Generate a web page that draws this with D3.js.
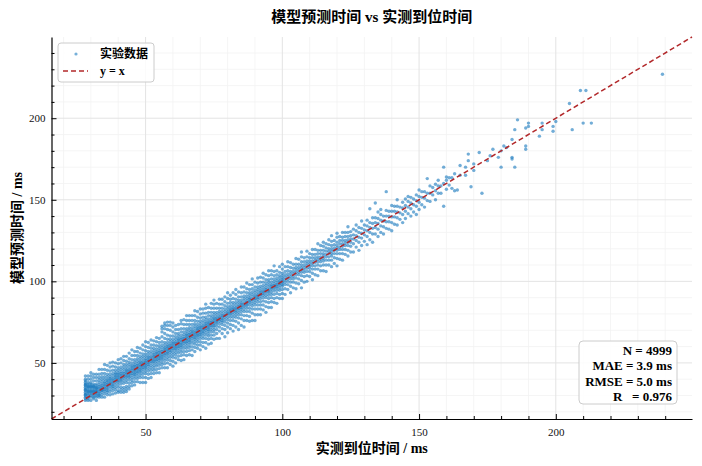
<!DOCTYPE html>
<html>
<head>
<meta charset="utf-8">
<script src="https://cdn.jsdelivr.net/npm/d3@7"></script>
<style>
  body { margin: 0; background: #fff; }
  text { font-family: "Liberation Serif", "Noto Sans CJK SC", serif; }
</style>
</head>
<body>
<script>
// each row: measured time (ms), then the prediction errors (predicted - measured, ms)
// read off that column of the scatter
const errorColumns = [
  [28, 0, 1, 2, 3, 4, 5, 6, 7, 8, 9, 10, 11, 12, -1, 2.5, 5.5, 8.5, 14],
  [29, -2, 0, 1, 2, 3, 4, 5, 6, 7, 8, 9, 11, 13, -1, 3.5, 6.5],
  [30, -3, -1, 0, 1, 2, 3, 4, 5, 6, 7, 8, 10, 12, 14, 2.5, 5.5],
  [31, -3, -2, -1, 0, 1, 2, 3, 4, 5, 6, 8, 10, 12, 1.5, 4.5],
  [32, -5, -3, -2, -1, 0, 1, 2, 3, 4, 5, 7, 9, 11, 0.5, 2.5],
  [33, -4, -3, -1.5, -0.5, 0.5, 1.5, 2.5, 3.5, 5, 6.5, 8, 10, 13, -2.5],
  [34, -5, -3.5, -2, -1, 0, 1, 2, 3, 4.5, 6, 7.5, 9.5, 12, -0.5],
  [35, -6, -4, -2.5, -1.5, -0.5, 0.5, 1.5, 2.5, 3.5, 5, 6.5, 8.5, 11, 14],
  [36, -5.5, -4, -3, -2, -1, 0, 1, 2, 3, 4, 5.5, 7, 9.5, 12.5],
  [37, -6.5, -4.5, -3, -1.5, -0.5, 0.5, 1.5, 2.5, 3.5, 4.5, 6, 8, 10.5, 13],
  [38, -7, -5, -3.5, -2.5, -1.5, -0.5, 0.5, 1.5, 2.5, 4, 5.5, 7.5, 10, 12.5],
  [39, -7.5, -5.5, -4, -2.5, -1, 0, 1, 2, 3, 4, 5, 6.5, 8.5, 11],
  [40, -8, -7, -5, -3.5, -2, -1, 0, 1, 2, 3, 4, 5.5, 7, 9.5, 12],
  [41, -9, -7.5, -6, -4, -2.5, -1.5, -0.5, 0.5, 1.5, 2.5, 3.5, 5, 6.5, 9, 11.5],
  [42, -10, -8.5, -7, -4.5, -3, -1.5, -0.5, 0.5, 1.5, 2.5, 4, 5.5, 7, 9.5, 12],
  [43, -10.5, -9, -7.5, -5, -3.5, -2, -1, 0, 1, 2, 3, 4.5, 6, 8, 11],
  [44, -10, -8.5, -6.5, -4.5, -3, -2, -1, 0, 1, 2, 3.5, 5, 6.5, 8.5, 12],
  [45, -9, -7, -5.5, -4, -2.5, -1.5, -0.5, 0.5, 1.5, 2.5, 3.5, 5, 7, 9.5, 13],
  [46, -9.5, -7.5, -5.5, -4, -3, -2, -1, 0, 1, 2, 3, 4.5, 6, 8.5, 11],
  [47, -8.5, -6.5, -5, -3.5, -2.5, -1.5, -0.5, 0.5, 1.5, 2.5, 4, 5.5, 7.5, 10, 12.5],
  [48, -10, -7, -5.5, -4, -3, -2, -1, 0, 1, 2, 3, 4.5, 6, 8, 11],
  [49, -11, -8, -6, -4.5, -3, -2, -1, 0, 1, 2, 3.5, 5, 6.5, 9, 12],
  [50, -12, -9, -6.5, -5, -3.5, -2.5, -1.5, -0.5, 0.5, 1.5, 2.5, 4, 5.5, 7.5, 10, 13],
  [51, -10.5, -8, -6, -4.5, -3, -2, -1, 0, 1, 2, 3, 4.5, 6, 8.5, 11.5],
  [52, -11, -8.5, -6.5, -5, -3.5, -2, -1, 0, 1, 2, 3.5, 5, 7, 9, 12],
  [53, -9.5, -7.5, -6, -4.5, -3, -2, -1, 0, 1, 2, 3, 4.5, 6, 8, 10.5],
  [54, -10, -8, -6, -4.5, -3, -2, -1, 0, 1, 2, 3, 4.5, 6.5, 9, 11.5],
  [55, -11, -8.5, -6.5, -5, -3.5, -2.5, -1.5, -0.5, 0.5, 1.5, 2.5, 4, 5.5, 7.5, 10],
  [56, -9, -7, -5.5, -4, -3, -2, -1, 0, 1, 2, 3.5, 5, 7, 10, 13, 15, 16.5],
  [57, -10, -7.5, -5.5, -4, -2.5, -1.5, -0.5, 0.5, 1.5, 2.5, 4, 5.5, 8, 11, 14, 16, 17.5],
  [58, -11, -8, -6, -4.5, -3, -2, -1, 0, 1, 2, 3, 4.5, 6.5, 9, 12.5, 15, 17],
  [59, -10, -7.5, -5.5, -4, -2.5, -1.5, -0.5, 0.5, 1.5, 2.5, 4, 5.5, 7.5, 11, 14, 16],
  [60, -12, -9, -6.5, -5, -3.5, -2, -1, 0, 1, 2, 3, 4.5, 6.5, 9, 12, 14.5],
  [61, -11, -8, -6, -4.5, -3, -2, -1, 0, 1, 2, 3.5, 5, 7, 9.5, 12],
  [62, -10, -8, -6, -4.5, -3, -2, -1, 0, 1, 2, 3, 4.5, 6, 8.5, 11.5],
  [63, -11.5, -8.5, -6.5, -5, -3.5, -2.5, -1.5, -0.5, 0.5, 1.5, 2.5, 4, 6, 8, 11, 13],
  [64, -12, -9, -7, -5, -3.5, -2, -1, 0, 1, 2, 3.5, 5, 7, 9.5, 12.5],
  [65, -10.5, -8, -6, -4.5, -3, -2, -1, 0, 1, 2, 3, 4.5, 6, 8.5, 11, 14],
  [66, -11, -8.5, -6.5, -5, -3.5, -2.5, -1.5, -0.5, 0.5, 1.5, 2.5, 4, 5.5, 7.5, 10, 13],
  [67, -12.5, -9, -7, -5, -3.5, -2, -1, 0, 1, 2, 3, 4.5, 6.5, 9, 12],
  [68, -11, -8.5, -6.5, -5, -3.5, -2.5, -1.5, -0.5, 0.5, 1.5, 3, 4.5, 6, 8, 11, 14],
  [69, -10, -8, -6, -4.5, -3, -2, -1, 0, 1, 2, 3, 4.5, 6.5, 9, 12.5],
  [70, -12, -9, -7, -5, -3.5, -2.5, -1.5, -0.5, 0.5, 1.5, 2.5, 4, 5.5, 7.5, 10, 13],
  [71, -11, -8.5, -6, -4.5, -3, -2, -1, 0, 1, 2, 3.5, 5, 7, 9.5, 12],
  [72, -13, -9.5, -7, -5, -3.5, -2, -1, 0, 1, 2, 3, 4.5, 6, 8.5, 11.5, 14],
  [73, -11.5, -8.5, -6.5, -5, -3.5, -2.5, -1.5, -0.5, 0.5, 1.5, 2.5, 4, 6, 8, 11],
  [74, -12, -9, -7, -5, -3.5, -2, -1, 0, 1, 2, 3.5, 5, 7, 9.5, 12.5],
  [75, -10.5, -8, -6, -4.5, -3, -2, -1, 0, 1, 2, 3, 4.5, 6, 8.5, 11, 13.5],
  [76, -11, -8, -5.5, -3.5, -2, -1, 0, 1, 2, 3.5, 5, 7.5, 10.5],
  [77, -12, -7.5, -5, -3, -1.5, -0.5, 0.5, 1.5, 3, 4.5, 6.5, 9, 12],
  [78, -10, -7, -4.5, -3, -2, -1, 0, 1, 2, 3.5, 5.5, 8, 11],
  [79, -13, -8.5, -6, -4, -2.5, -1, 0, 1, 2.5, 4, 6, 8.5, 11.5],
  [80, -11.5, -8, -5.5, -3.5, -2, -0.5, 0.5, 1.5, 3, 4.5, 6.5, 9.5, 13],
  [81, -10, -7.5, -5, -3, -1.5, -0.5, 0.5, 1.5, 2.5, 4, 6, 8, 10.5],
  [82, -12.5, -9, -6, -4, -2.5, -1, 0, 1, 2, 3.5, 5, 7.5, 11],
  [83, -11, -7.5, -5, -3.5, -2, -1, 0, 1, 2.5, 4, 6, 9, 12],
  [84, -13.5, -9.5, -6.5, -4.5, -3, -1.5, -0.5, 0.5, 1.5, 3, 4.5, 6.5, 9.5],
  [85, -12, -8, -5.5, -3.5, -2, -1, 0, 1, 2, 3.5, 5.5, 8, 11.5],
  [86, -14, -10, -7, -4.5, -3, -1.5, -0.5, 0.5, 2, 3.5, 5, 7.5, 10.5],
  [87, -11, -8, -5.5, -3.5, -2, -1, 0, 1, 2.5, 4, 6, 8.5, 12],
  [88, -12.5, -9.5, -6.5, -4.5, -2.5, -1, 0, 1, 2, 3.5, 5, 7, 10],
  [89, -13, -8.5, -6, -4, -2.5, -1, 0, 1.5, 3, 4.5, 6.5, 9, 12.5],
  [90, -14, -10.5, -7, -4.5, -3, -1.5, -0.5, 0.5, 1.5, 3, 4.5, 6.5, 9.5],
  [91, -11.5, -8, -5.5, -3.5, -2, -1, 0, 1, 2.5, 4, 5.5, 8, 11],
  [92, -12.5, -9, -6.5, -4.5, -2.5, -1, 0, 1, 2, 3.5, 5, 7.5, 10.5],
  [93, -10.5, -7.5, -5, -3, -1.5, -0.5, 0.5, 1.5, 3, 4.5, 6.5, 9, 12],
  [94, -13, -9.5, -6.5, -4, -2.5, -1, 0, 1, 2, 3.5, 5, 7, 10],
  [95, -11, -8, -5.5, -3.5, -2, -1, 0, 1.5, 3, 4.5, 6, 8.5, 11.5],
  [96, -12, -8.5, -6, -4, -2.5, -1, 0, 1, 2, 3.5, 5.5, 8, 10.5],
  [97, -10, -7.5, -5, -3, -1.5, -0.5, 0.5, 1.5, 3, 4.5, 6.5, 9, 12.5],
  [98, -11.5, -8, -5.5, -3.5, -2, -1, 0, 1, 2.5, 4, 6, 8.5],
  [99, -9.5, -7, -4.5, -3, -1.5, -0.5, 0.5, 1.5, 3, 4.5, 6.5, 10],
  [100, -10.5, -7.5, -5, -3, -2, -1, 0, 1, 2, 3.5, 5, 7.5, 10.5],
  [101, -9, -5.5, -3, -1.5, 0, 1.5, 3, 5, 8],
  [102, -7, -4, -2, -0.5, 1, 2.5, 4.5, 7, 10],
  [103, -10, -6, -3.5, -1.5, 0, 1.5, 3, 5.5, 8.5],
  [104, -8, -4.5, -2.5, -1, 0.5, 2, 4, 6.5],
  [105, -9.5, -6, -3, -1, 0.5, 2, 3.5, 5.5, 9],
  [106, -7.5, -4.5, -2, -0.5, 1, 2.5, 4.5, 7.5],
  [107, -11, -6.5, -3.5, -1.5, 0, 1.5, 3, 5, 8, 11],
  [108, -8.5, -5, -2.5, -1, 0.5, 2, 4, 6.5],
  [109, -9, -5.5, -3, -1, 0.5, 2, 3.5, 6, 9.5],
  [110, -7, -4, -2, -0.5, 1, 2.5, 4.5, 7],
  [111, -10, -6, -3.5, -1.5, 0, 1.5, 3.5, 5.5, 8.5],
  [112, -8, -4.5, -2.5, -0.5, 1, 2.5, 4.5, 7.5],
  [113, -9.5, -5.5, -3, -1, 0.5, 2, 4, 6, 10],
  [114, -7.5, -4.5, -2, -0.5, 1, 3, 5, 8],
  [115, -8.5, -5, -2.5, -1, 0.5, 2, 4, 6.5, 9],
  [116, -10, -6, -3, -1, 0.5, 2.5, 4.5, 7],
  [117, -7, -4, -2, 0, 1.5, 3, 5.5, 8.5],
  [118, -9, -5, -2.5, -1, 0.5, 2, 4, 6.5, 10],
  [119, -8, -4.5, -2, 0, 1.5, 3.5, 6],
  [120, -10.5, -6, -3, -1, 0.5, 2, 4, 7, 9.5],
  [121, -7.5, -4, -1.5, 0, 2, 4, 6.5],
  [122, -9, -5, -2.5, -0.5, 1, 3, 5, 8],
  [123, -6.5, -3.5, -1, 0.5, 2, 4.5, 7],
  [124, -8.5, -5, -2, 0, 1.5, 3.5, 6, 9.5],
  [125, -7, -3.5, -1, 1, 3, 5.5],
  [126, -8, -3, 0, 2.5, 6],
  [127, -6, -2, 1, 4, 7.5],
  [128, -9, -4, -1, 2, 5],
  [129, -7, -2.5, 0.5, 3.5, 8],
  [130, -5.5, -1.5, 1.5, 4.5],
  [131, -8.5, -3.5, 0, 3, 6.5],
  [132, -6.5, -2, 1, 4, 12.5],
  [133, -9, -4, -0.5, 2.5, 6],
  [134, -5, -1, 2, 5, 14],
  [135, -7.5, -3, 0.5, 3.5, 7.5],
  [136, -6, -2, 1.5, 5, 8],
  [137, -8, -3.5, 0, 3],
  [138, -5.5, -1.5, 2, 5.5, 17],
  [139, -7, -2.5, 1, 4],
  [140, -9, -4, -0.5, 3, 6.5],
  [141, -6, -1.5, 2, 5],
  [142, -7.5, -3, 0.5, 4, 8],
  [143, -5, -1, 2.5],
  [144, -8, -3, 1, 4.5],
  [145, -6.5, -2, 1.5, 5.5],
  [146, -4.5, -0.5, 3, 6],
  [147, -7, -2.5, 1, 4.5],
  [148, -5.5, -1, 2.5],
  [149, -8, -3, 0.5, 4],
  [150, -6, -1.5, 2, 6],
  [151, -4, 0.5, 4],
  [152, -6.5, -1, 3],
  [153, -3.5, 1, 10],
  [154, -5, 0, 4.5],
  [155, -2, 2.5],
  [156, -6, -0.5, 3.5],
  [157, -3, 1.5, 5],
  [158, -4, 0.5],
  [159, -13, 1, 11],
  [160, -3.5, 2, 4],
  [161, -2, 2.5],
  [162, -5, 1.5],
  [163, -7.5, 3],
  [164, -8],
  [165, 0, 6],
  [167, -2, 3],
  [168, 6, 10],
  [169, -11],
  [170, -2, 2],
  [172, 7],
  [173, -19],
  [175, -1],
  [176, 1],
  [177, 4],
  [179, -3],
  [180, -10, 0],
  [181, 2],
  [182, 0],
  [184, -9, -8, 3],
  [185, -15, 8],
  [186, 13],
  [189, -8, -6, 5],
  [190, 5, 7],
  [194, -5],
  [195, -2, 2],
  [199, -7, -4],
  [200, -2],
  [205, 4],
  [206, -13],
  [209, 8],
  [210, -13],
  [211, 6],
  [213, -16],
  [239, -12]
];

const xTicks = [50, 100, 150, 200];
const yTicks = [50, 100, 150, 200];
const minorTicks = [20, 30, 40, 60, 70, 80, 90, 110, 120, 130, 140, 160, 170, 180, 190, 210, 220, 230, 240];
const legendLabels = ["实验数据", "y = x"];
const statsLines = ["N = 4999", "MAE = 3.9 ms", "RMSE = 5.0 ms", "R   = 0.976"];

const points = [];
errorColumns.forEach(col => {
  col.slice(1).forEach(e => points.push({ measured: col[0], predicted: col[0] + e }));
});

const W = 702, H = 466;
const padLeft = 51.5, padRight = 692, padTop = 37, padBottom = 419;
const lims = [15.6, 249.8];

const x = d3.scaleLinear().domain(lims).range([padLeft, padRight]);
const y = d3.scaleLinear().domain(lims).range([padBottom, padTop]);

const svg = d3.select("body").append("svg")
  .attr("width", W)
  .attr("height", H);

// grid, minor first then major
const grid = svg.append("g");
grid.selectAll(".vmin").data(minorTicks).enter().append("line")
  .attr("x1", d => x(d)).attr("x2", d => x(d))
  .attr("y1", padTop).attr("y2", padBottom)
  .attr("stroke", "#f2f2f2").attr("stroke-width", 0.8);
grid.selectAll(".hmin").data(minorTicks).enter().append("line")
  .attr("y1", d => y(d)).attr("y2", d => y(d))
  .attr("x1", padLeft).attr("x2", padRight)
  .attr("stroke", "#f2f2f2").attr("stroke-width", 0.8);
grid.selectAll(".vmaj").data(xTicks).enter().append("line")
  .attr("x1", d => x(d)).attr("x2", d => x(d))
  .attr("y1", padTop).attr("y2", padBottom)
  .attr("stroke", "#e3e3e3").attr("stroke-width", 1);
grid.selectAll(".hmaj").data(yTicks).enter().append("line")
  .attr("y1", d => y(d)).attr("y2", d => y(d))
  .attr("x1", padLeft).attr("x2", padRight)
  .attr("stroke", "#e3e3e3").attr("stroke-width", 1);

// scatter
svg.append("g").selectAll("circle").data(points).enter().append("circle")
  .attr("cx", d => x(d.measured))
  .attr("cy", d => y(d.predicted))
  .attr("r", 1.7)
  .attr("fill", "#1b7bbf")
  .attr("fill-opacity", 0.62);

// y = x reference
svg.append("line")
  .attr("x1", x(lims[0])).attr("y1", y(lims[0]))
  .attr("x2", x(lims[1])).attr("y2", y(lims[1]))
  .attr("stroke", "#b2282a")
  .attr("stroke-width", 1.5)
  .attr("stroke-dasharray", "5,3");

// axes
let xAxis = g => g
  .attr("transform", `translate(0,${padBottom})`)
  .call(d3.axisBottom(x).tickValues(xTicks).tickSizeInner(-5).tickSizeOuter(0).tickPadding(9))
  .call(g => g.selectAll("text").attr("font-size", 11).attr("fill", "#111"))
  .call(g => g.select(".domain").attr("stroke", "#000").attr("stroke-width", 1.2));

let yAxis = g => g
  .attr("transform", `translate(${padLeft},0)`)
  .call(d3.axisLeft(y).tickValues(yTicks).tickSizeInner(-5).tickSizeOuter(0).tickPadding(6))
  .call(g => g.selectAll("text").attr("font-size", 11).attr("fill", "#111"))
  .call(g => g.select(".domain").attr("stroke", "#000").attr("stroke-width", 1.2));

svg.append("g").call(xAxis);
svg.append("g").call(yAxis);

svg.append("g")
  .attr("transform", `translate(0,${padBottom})`)
  .call(d3.axisBottom(x).tickValues(minorTicks).tickSizeInner(-3).tickSizeOuter(0).tickFormat(""))
  .call(g => g.select(".domain").remove());
svg.append("g")
  .attr("transform", `translate(${padLeft},0)`)
  .call(d3.axisLeft(y).tickValues(minorTicks).tickSizeInner(-3).tickSizeOuter(0).tickFormat(""))
  .call(g => g.select(".domain").remove());

// titles
svg.append("text")
  .attr("x", (padLeft + padRight) / 2).attr("y", 22)
  .attr("text-anchor", "middle")
  .attr("font-size", 15).attr("font-weight", "bold")
  .text("模型预测时间 vs 实测到位时间");

svg.append("text")
  .attr("x", (padLeft + padRight) / 2).attr("y", 453)
  .attr("text-anchor", "middle")
  .attr("font-size", 14).attr("font-weight", "bold")
  .text("实测到位时间 / ms");

svg.append("text")
  .attr("transform", `translate(22,${(padTop + padBottom) / 2}) rotate(-90)`)
  .attr("text-anchor", "middle")
  .attr("font-size", 14).attr("font-weight", "bold")
  .text("模型预测时间 / ms");

// legend
const legend = svg.append("g").attr("transform", "translate(58,43)");
legend.append("rect")
  .attr("width", 96).attr("height", 39).attr("rx", 3)
  .attr("fill", "#fff").attr("fill-opacity", 0.85)
  .attr("stroke", "#cccccc").attr("stroke-width", 1);
legend.append("circle")
  .attr("cx", 18).attr("cy", 11).attr("r", 1.6)
  .attr("fill", "#1b7bbf").attr("fill-opacity", 0.6);
legend.append("line")
  .attr("x1", 5).attr("x2", 30).attr("y1", 28).attr("y2", 28)
  .attr("stroke", "#b2282a").attr("stroke-width", 1.5)
  .attr("stroke-dasharray", "5,3");
legend.selectAll(".lbl").data(legendLabels).enter().append("text")
  .attr("x", 42).attr("y", (d, i) => 15 + i * 17)
  .attr("font-size", 12).attr("font-weight", "bold")
  .text(d => d);

// stats box
const stats = svg.append("g").attr("transform", "translate(579,341)");
stats.append("rect")
  .attr("width", 98).attr("height", 63).attr("rx", 4)
  .attr("fill", "#fff").attr("fill-opacity", 0.85)
  .attr("stroke", "#cccccc").attr("stroke-width", 1);
stats.selectAll(".st").data(statsLines).enter().append("text")
  .attr("x", 93).attr("y", (d, i) => 14 + i * 15.4)
  .attr("text-anchor", "end")
  .attr("font-size", 13).attr("font-weight", "bold")
  .style("white-space", "pre")
  .text(d => d);
</script>
</body>
</html>
